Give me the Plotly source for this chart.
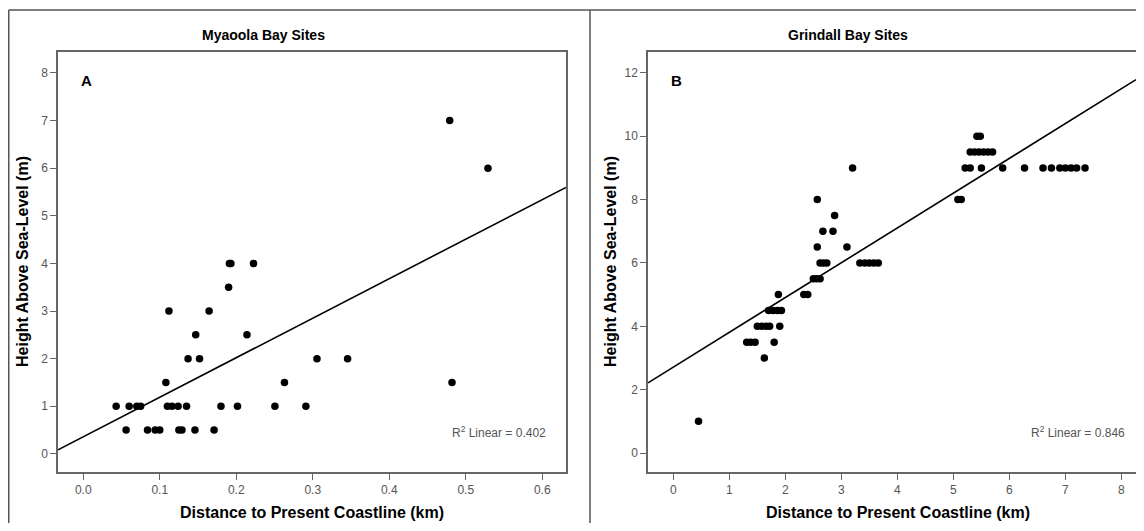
import plotly.graph_objects as go

# ---------------- data ----------------
# Panel A: Myaoola Bay Sites
myaoola_dist = [0.479, 0.529,
                0.191, 0.193, 0.2225,
                0.190,
                0.112, 0.1645,
                0.147, 0.214,
                0.137, 0.152, 0.3055, 0.3455,
                0.108, 0.263, 0.482,
                0.043, 0.060, 0.070, 0.075, 0.110, 0.116, 0.124, 0.135, 0.180, 0.2016, 0.2505, 0.291,
                0.056, 0.084, 0.094, 0.100, 0.125, 0.129, 0.146, 0.171]
myaoola_height = [7, 6,
                  4, 4, 4,
                  3.5,
                  3, 3,
                  2.5, 2.5,
                  2, 2, 2, 2,
                  1.5, 1.5, 1.5,
                  1, 1, 1, 1, 1, 1, 1, 1, 1, 1, 1, 1,
                  0.5, 0.5, 0.5, 0.5, 0.5, 0.5, 0.5, 0.5]

# Panel B: Grindall Bay Sites
grindall_dist = [0.45,
                 1.625,
                 1.31, 1.38, 1.46, 1.80,
                 1.50, 1.58, 1.66, 1.72, 1.90,
                 1.70, 1.78, 1.86, 1.93,
                 1.875, 2.33, 2.40,
                 2.50, 2.56, 2.62,
                 2.62, 2.68, 2.74, 3.33, 3.42, 3.50, 3.58, 3.66,
                 2.57, 3.10,
                 2.67, 2.85,
                 2.88,
                 2.57, 5.08, 5.14,
                 3.20, 5.21, 5.30, 5.50, 5.88, 6.27, 6.60, 6.75, 6.90, 7.00, 7.10, 7.20, 7.35,
                 5.30, 5.38, 5.46, 5.54, 5.62, 5.70,
                 5.42, 5.48]
grindall_height = [1,
                   3,
                   3.5, 3.5, 3.5, 3.5,
                   4, 4, 4, 4, 4,
                   4.5, 4.5, 4.5, 4.5,
                   5, 5, 5,
                   5.5, 5.5, 5.5,
                   6, 6, 6, 6, 6, 6, 6, 6,
                   6.5, 6.5,
                   7, 7,
                   7.5,
                   8, 8, 8,
                   9, 9, 9, 9, 9, 9, 9, 9, 9, 9, 9, 9, 9,
                   9.5, 9.5, 9.5, 9.5, 9.5, 9.5,
                   10, 10]

# linear fit lines (intercept, slope) and R^2 labels
fit_a = [0.36, 8.3]
fit_b = [2.71, 1.099]
r2_a = "0.402"
r2_b = "0.846"

titles = ["Myaoola Bay Sites", "Grindall Bay Sites"]
panel_letters = ["A", "B"]
x_title = "Distance to Present Coastline (km)"
y_title = "Height Above Sea-Level (m)"

xrange_a = [-0.033, 0.631]
xrange_b = [-0.452, 8.26]
yrange_a = [-0.38, 8.44]
yrange_b = [-0.6, 12.66]

# ---------------- figure ----------------
# the page body has an 8px default margin, so the figure is offset by 8px
OFF = 8
W, H = 1128, 515
def px(x):
    return (x - OFF) / W
def py(y):
    return 1 - (y - OFF) / H

FONT = "Liberation Sans, Arial, sans-serif"
AXIS_COL = "#666666"
TICK_COL = "#555555"

fig = go.Figure()

marker = dict(color="black", size=7.5, line=dict(width=0))
fig.add_trace(go.Scatter(x=myaoola_dist, y=myaoola_height, mode="markers",
                         marker=marker, xaxis="x", yaxis="y", showlegend=False))
fig.add_trace(go.Scatter(x=grindall_dist, y=grindall_height, mode="markers",
                         marker=marker, xaxis="x2", yaxis="y2", showlegend=False))

# fit lines across whole axis range
xa = xrange_a
fig.add_trace(go.Scatter(x=xa, y=[fit_a[0] + fit_a[1] * v for v in xa], mode="lines",
                         line=dict(color="black", width=1.6), xaxis="x", yaxis="y",
                         showlegend=False))
xb = xrange_b
fig.add_trace(go.Scatter(x=xb, y=[fit_b[0] + fit_b[1] * v for v in xb], mode="lines",
                         line=dict(color="black", width=1.6), xaxis="x2", yaxis="y2",
                         showlegend=False))

ydom = [py(472), py(52)]
common_axis = dict(showgrid=False, zeroline=False, showline=True, linecolor=AXIS_COL,
                   linewidth=1.5, ticks="outside", ticklen=6, tickwidth=1.2,
                   tickcolor=AXIS_COL, tickfont=dict(family=FONT, size=12, color=TICK_COL))

fig.update_layout(
    width=W, height=H,
    margin=dict(l=0, r=0, t=0, b=0),
    paper_bgcolor="white", plot_bgcolor="white",
    font=dict(family=FONT),
    xaxis=dict(domain=[px(58), px(566)], range=xrange_a, tickvals=[0, 0.1, 0.2, 0.3, 0.4, 0.5, 0.6],
               ticktext=["0.0", "0.1", "0.2", "0.3", "0.4", "0.5", "0.6"], mirror=True,
               anchor="y", **common_axis),
    yaxis=dict(domain=ydom, range=yrange_a, tickvals=list(range(0, 9)), mirror=True,
               anchor="x", **common_axis),
    xaxis2=dict(domain=[px(648), 1.0], range=xrange_b, tickvals=list(range(0, 9)), mirror=True,
                anchor="y2", **common_axis),
    yaxis2=dict(domain=ydom, range=yrange_b, tickvals=list(range(0, 13, 2)), mirror=False,
                anchor="x2", **common_axis),
)

# outer panel frames
frame = dict(color="#555555", width=1.5)
fig.add_shape(type="line", xref="paper", yref="paper", x0=px(8.75), x1=1.0, y0=py(10), y1=py(10), line=frame)
fig.add_shape(type="line", xref="paper", yref="paper", x0=px(8.75), x1=px(8.75), y0=py(10), y1=0, line=frame)
fig.add_shape(type="line", xref="paper", yref="paper", x0=px(590), x1=px(590), y0=py(10), y1=0, line=frame)

ann = []
# panel titles
ann.append(dict(text="<b>%s</b>" % titles[0], x=px(200), y=py(35), xanchor="left", yanchor="middle"))
ann.append(dict(text="<b>%s</b>" % titles[1], x=px(786), y=py(35), xanchor="left", yanchor="middle"))
for a in ann:
    a.update(xref="paper", yref="paper", showarrow=False, font=dict(family=FONT, size=14, color="black"))
# panel letters
for letter, xp in zip(panel_letters, [86, 676]):
    ann.append(dict(text="<b>%s</b>" % letter, x=px(xp), y=py(80), xref="paper", yref="paper",
                    showarrow=False, xanchor="center", yanchor="middle",
                    font=dict(family=FONT, size=15, color="black")))
# axis titles
for xc in [312, 898]:
    ann.append(dict(text="<b>%s</b>" % x_title, x=px(xc), y=py(512), xref="paper", yref="paper",
                    showarrow=False, xanchor="center", yanchor="middle",
                    font=dict(family=FONT, size=16, color="black")))
for xc in [22, 610]:
    ann.append(dict(text="<b>%s</b>" % y_title, x=px(xc), y=py(262), xref="paper", yref="paper",
                    showarrow=False, xanchor="center", yanchor="middle", textangle=-90,
                    font=dict(family=FONT, size=16, color="black")))
# R^2 labels
for r2, xr in [(r2_a, 548), (r2_b, 1127)]:
    ann.append(dict(text="R<sup>2</sup> Linear = %s" % r2, x=px(xr), y=py(432), xref="paper", yref="paper",
                    showarrow=False, xanchor="right", yanchor="middle",
                    font=dict(family=FONT, size=12, color=TICK_COL)))

fig.update_layout(annotations=ann)
fig.write_html("out.html")
